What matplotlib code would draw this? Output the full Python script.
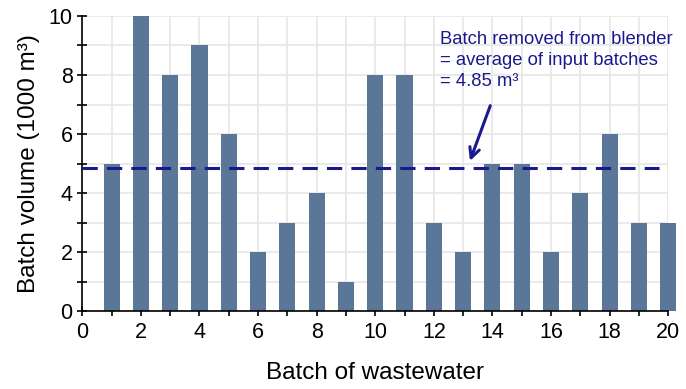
import numpy as np
import matplotlib.pyplot as plt

plt.rcParams['font.family'] = ['Liberation Sans', 'DejaVu Sans']

# wastewater batches fed into the blender
batch = list(range(1, 21))
volume = [5, 10, 8, 9, 6, 2, 3, 4, 1, 8, 8, 3, 2, 5, 5, 2, 4, 6, 3, 3]
avg = np.mean(volume)

bar_color = '#5a7798'
navy = '#1a1a8c'

fig = plt.figure(figsize=(6.86, 3.89), dpi=100)
ax = fig.add_axes([0.12, 0.2, 0.854, 0.759])

ax.bar(batch, volume, width=0.55, color=bar_color, zorder=2, clip_on=False)
ax.axhline(avg, color=navy, lw=2.2, ls=(0, (5, 3)), xmax=0.985, zorder=3)

ax.set_xlim(0, 20)
ax.set_ylim(0, 10)
ax.set_xticks(range(0, 21, 2))
ax.set_xticks(range(0, 21), minor=True)
ax.set_yticks(range(0, 11, 2))
ax.set_yticks(range(0, 11), minor=True)
ax.grid(True, which='both', color='#e8e8e8', lw=1.3, zorder=0)
ax.set_axisbelow(True)

for s in ['top', 'right']:
    ax.spines[s].set_visible(False)
for s in ['left', 'bottom']:
    ax.spines[s].set_linewidth(1.2)
ax.tick_params(which='both', direction='inout', length=7, width=1.2, labelsize=15.5)
ax.tick_params(axis='x', pad=4)

ax.set_xlabel('Batch of wastewater', fontsize=17.5, labelpad=14)
ax.set_ylabel('Batch volume (1000 m³)', fontsize=17.5, labelpad=6)

ax.text(12.2, 9.5, 'Batch removed from blender\n= average of input batches\n= %.2f m³' % avg,
        fontsize=13.3, color=navy, va='top', ha='left', linespacing=1.32)
ax.annotate('', xy=(13.2, avg + 0.15), xytext=(13.96, 7.05),
            arrowprops=dict(arrowstyle='->', color=navy, lw=2.2, mutation_scale=18))

fig.savefig('out.png', dpi=100)
